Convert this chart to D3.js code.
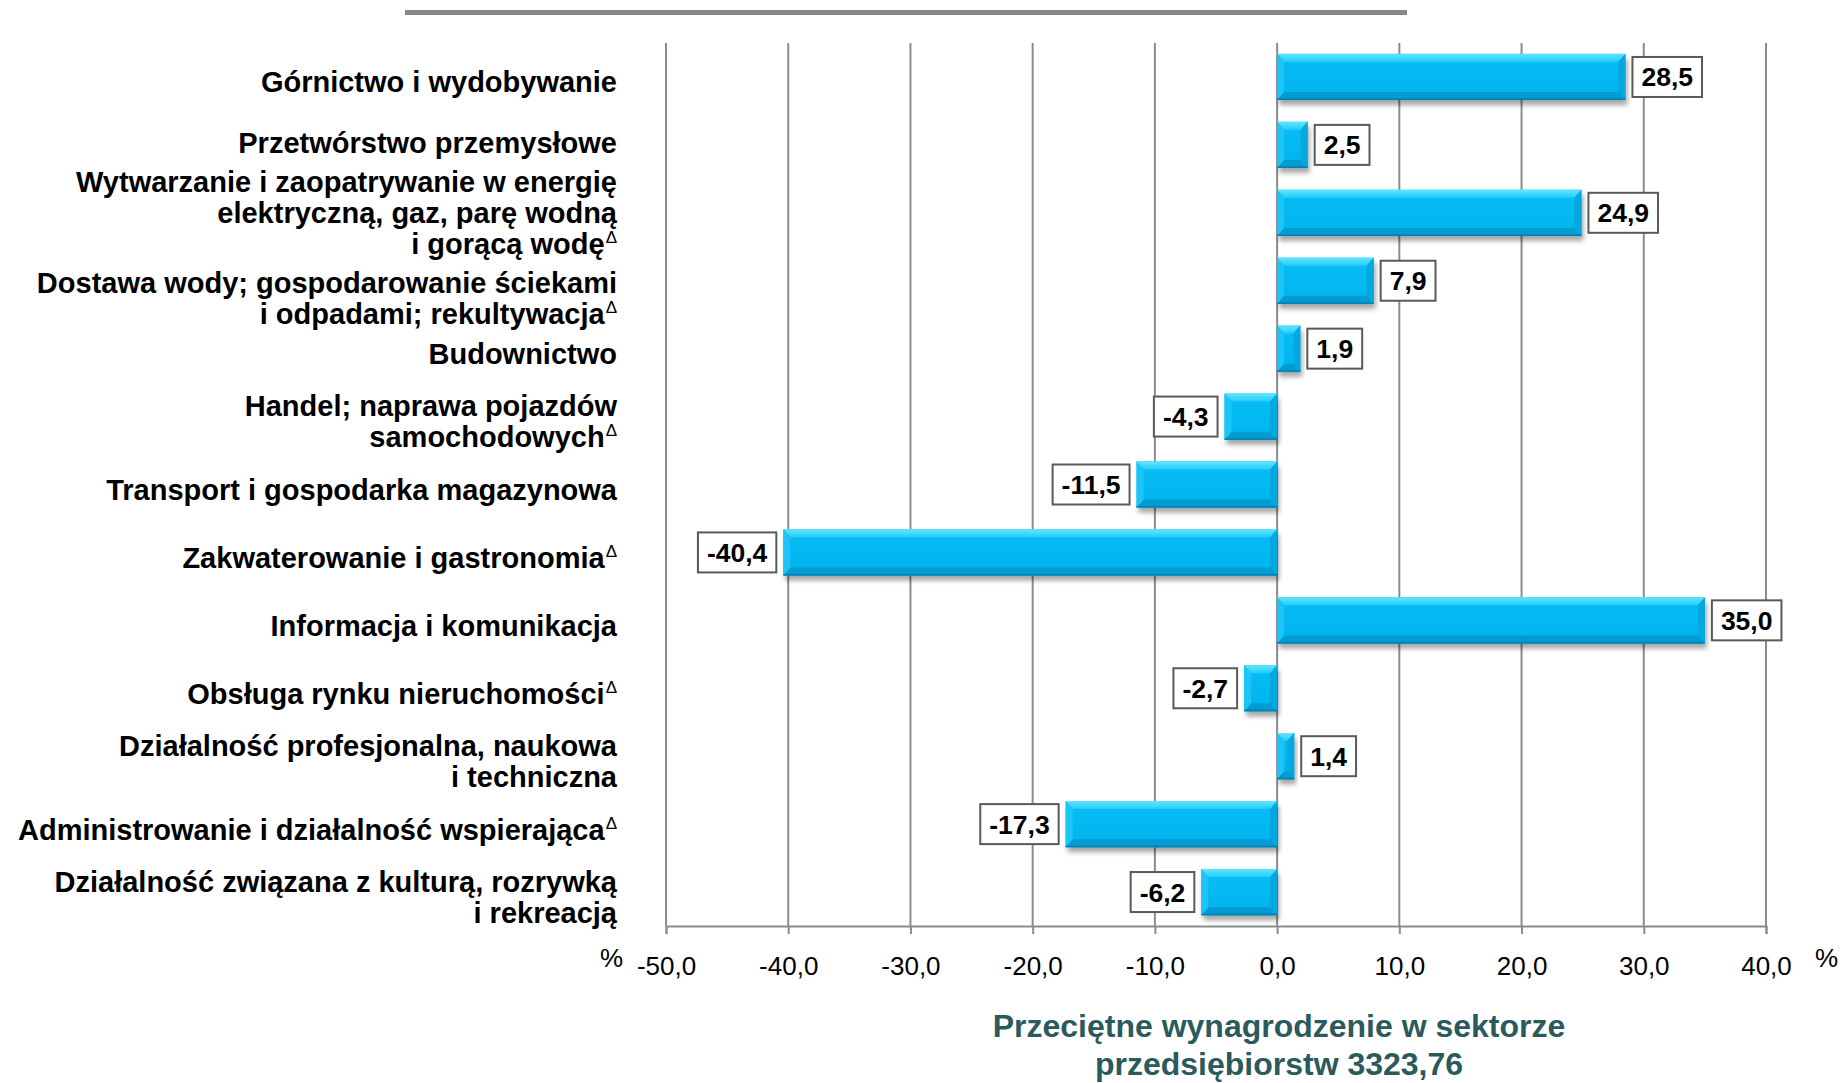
<!DOCTYPE html>
<html>
<head>
<meta charset="utf-8">
<script src="https://cdn.jsdelivr.net/npm/d3@7"></script>
<style>
    body { margin: 0; background: #fff; }
    svg { display: block; font-family: "Liberation Sans", Arial, sans-serif; }
</style>
</head>
<body>
<svg id="chart" width="1842" height="1083"></svg>
<script>
// data (Δ marks the superscript note)
var categories = [
    ["Górnictwo i wydobywanie"],
    ["Przetwórstwo przemysłowe"],
    ["Wytwarzanie i zaopatrywanie w energię", "elektryczną, gaz, parę wodną", "i gorącą wodęΔ"],
    ["Dostawa wody; gospodarowanie ściekami", "i odpadami; rekultywacjaΔ"],
    ["Budownictwo"],
    ["Handel; naprawa pojazdów", "samochodowychΔ"],
    ["Transport i gospodarka magazynowa"],
    ["Zakwaterowanie i gastronomiaΔ"],
    ["Informacja i komunikacja"],
    ["Obsługa rynku nieruchomościΔ"],
    ["Działalność profesjonalna, naukowa", "i techniczna"],
    ["Administrowanie i działalność wspierającaΔ"],
    ["Działalność związana z kulturą, rozrywką", "i rekreacją"]
]
var values = [28.5, 2.5, 24.9, 7.9, 1.9, -4.3, -11.5, -40.4, 35.0, -2.7, 1.4, -17.3, -6.2]
var tickValues = [-50, -40, -30, -20, -10, 0, 10, 20, 30, 40]
var axisTitle = ["Przeciętne wynagrodzenie w sektorze", "przedsiębiorstw 3323,76"]
var unitLabel = "%"

var svg = d3.select("#chart"),
    margin = { top: 43, left: 666, bottom: 157, right: 76 },
    width = +svg.attr("width"),
    height = +svg.attr("height");

var pl = d3.formatLocale({ decimal: ",", thousands: " ", grouping: [3], currency: ["", ""], minus: "-" })
var fmt = pl.format(".1f")

var x = d3.scaleLinear()
    .domain([-50, 40])
    .range([margin.left, width - margin.right])

var y = d3.scaleBand()
    .domain(d3.range(categories.length))
    .range([margin.top, height - margin.bottom])
    .paddingInner(0.32)
    .paddingOuter(0.16)

var defs = svg.append("defs")
defs.append("filter").attr("id", "blur")
    .attr("x", "-10%").attr("y", "-30%").attr("width", "120%").attr("height", "160%")
    .append("feGaussianBlur").attr("stdDeviation", 2.5)
var topGrad = defs.append("linearGradient").attr("id", "topFacet")
    .attr("x1", 0).attr("y1", 0).attr("x2", 0).attr("y2", 1)
topGrad.append("stop").attr("offset", "0%").attr("stop-color", "#5FE6FF")
topGrad.append("stop").attr("offset", "100%").attr("stop-color", "#26CBF9")
var faceGrad = defs.append("linearGradient").attr("id", "face")
    .attr("x1", 0).attr("y1", 0).attr("x2", 0).attr("y2", 1)
faceGrad.append("stop").attr("offset", "0%").attr("stop-color", "#08BDF4")
faceGrad.append("stop").attr("offset", "100%").attr("stop-color", "#00B3EE")

// grey rule above the chart
svg.append("line")
    .attr("x1", 405).attr("x2", 1407)
    .attr("y1", 12.5).attr("y2", 12.5)
    .attr("stroke", "#878787")
    .attr("stroke-width", 5)

// gridlines
svg.append("g").attr("class", "grid")
    .selectAll("line")
    .data(tickValues)
    .join("line")
    .attr("x1", d => x(d)).attr("x2", d => x(d))
    .attr("y1", margin.top).attr("y2", height - margin.bottom)
    .attr("stroke", "#8c8c8c")
    .attr("stroke-width", 2)

// x axis
var xAxis = svg.append("g")
    .attr("class", "x-axis")
    .attr("transform", `translate(0,${height - margin.bottom})`)
    .call(d3.axisBottom(x).tickValues(tickValues).tickFormat(fmt)
        .tickSizeInner(8).tickSizeOuter(8).tickPadding(23))
xAxis.select(".domain").attr("stroke", "#8c8c8c").attr("stroke-width", 2)
xAxis.selectAll(".tick line").attr("stroke", "#8c8c8c").attr("stroke-width", 2)
xAxis.selectAll(".tick text")
    .attr("fill", "#000")
    .style("font-size", "26px")
    .style("font-family", "'Liberation Sans', Arial, sans-serif")

svg.append("text")
    .attr("x", 623).attr("y", 967)
    .attr("text-anchor", "end")
    .style("font-size", "26px")
    .text(unitLabel)
svg.append("text")
    .attr("x", 1815).attr("y", 967)
    .attr("text-anchor", "start")
    .style("font-size", "26px")
    .text(unitLabel)

// bars with a bevel look
var bars = svg.append("g").attr("class", "bars")
    .selectAll("g")
    .data(values)
    .join("g")

bars.each(function (v, i) {
    var g = d3.select(this)
    var x0 = x(Math.min(0, v)), x1 = x(Math.max(0, v))
    var y0 = y(i), y1 = y(i) + y.bandwidth()
    var w = x1 - x0
    var bx = Math.min(7, w / 2), by = 8
    g.append("rect")
        .attr("x", x0 + 2).attr("y", y0 + 5)
        .attr("width", w).attr("height", y1 - y0)
        .attr("fill", "#000").attr("opacity", 0.35)
        .attr("filter", "url(#blur)")
    g.append("rect")
        .attr("x", x0).attr("y", y0)
        .attr("width", w).attr("height", y1 - y0)
        .attr("fill", "url(#face)")
    g.append("polygon")
        .attr("points", [[x0, y0], [x1, y0], [x1 - bx, y0 + by], [x0 + bx, y0 + by]].join(" "))
        .attr("fill", "url(#topFacet)")
    g.append("polygon")
        .attr("points", [[x0, y1], [x1, y1], [x1 - bx, y1 - by], [x0 + bx, y1 - by]].join(" "))
        .attr("fill", "#039BD1")
    g.append("polygon")
        .attr("points", [[x0, y0], [x0 + bx, y0 + by], [x0 + bx, y1 - by], [x0, y1]].join(" "))
        .attr("fill", "#1CC5F7")
    g.append("polygon")
        .attr("points", [[x1, y0], [x1 - bx, y0 + by], [x1 - bx, y1 - by], [x1, y1]].join(" "))
        .attr("fill", "#02A8E0")
    g.append("line")
        .attr("x1", x0).attr("x2", x1)
        .attr("y1", y1 - 0.75).attr("y2", y1 - 0.75)
        .attr("stroke", "#0080B2").attr("stroke-width", 1.5)
})

// value labels in boxes
var labels = svg.append("g").attr("class", "values")
    .selectAll("g")
    .data(values)
    .join("g")

labels.each(function (v, i) {
    var g = d3.select(this)
    var cy = y(i) + y.bandwidth() / 2
    var box = g.append("rect")
    var t = g.append("text")
        .attr("y", cy + 9.5)
        .attr("text-anchor", "middle")
        .style("font-size", "26.5px")
        .style("font-weight", "bold")
        .text(fmt(v))
    var bw = t.node().getComputedTextLength() + 18, bh = 40
    var bxl = v >= 0 ? x(v) + 7 : x(v) - 7 - bw
    box.attr("x", bxl).attr("y", cy - bh / 2)
        .attr("width", bw).attr("height", bh)
        .attr("fill", "#fff")
        .attr("stroke", "#595959")
        .attr("stroke-width", 2)
    t.attr("x", bxl + bw / 2)
})

// category labels: start at the band centre, then push apart blocks that collide
var lineH = 31, blockGap = 8
var blocks = categories.map((lines, i) => ({ c: y(i) + y.bandwidth() / 2 + 5, h: lines.length * lineH }))
for (var it = 0; it < 60; it++) {
    for (var i = 0; i < blocks.length - 1; i++) {
        var a = blocks[i], b = blocks[i + 1]
        var need = a.h / 2 + b.h / 2 + blockGap - (b.c - a.c)
        if (need > 0) { a.c -= need / 2; b.c += need / 2 }
    }
}

var cats = svg.append("g").attr("class", "categories")
    .selectAll("g")
    .data(categories)
    .join("g")

cats.each(function (lines, i) {
    var g = d3.select(this)
    var first = blocks[i].c - (lines.length - 1) * lineH / 2 + 10.4
    lines.forEach(function (line, k) {
        var delta = line.endsWith("Δ")
        var t = g.append("text")
            .attr("x", 617)
            .attr("y", first + k * lineH)
            .attr("text-anchor", "end")
            .style("font-size", "29px")
            .style("font-weight", "bold")
            .attr("fill", "#000")
        t.append("tspan").text(delta ? line.slice(0, -1) : line)
        if (delta) {
            t.append("tspan")
                .attr("dx", 1)
                .attr("dy", -11)
                .style("font-size", "17px")
                .style("font-weight", "normal")
                .text("Δ")
        }
    })
})

// axis title
svg.append("g").attr("class", "axis-title")
    .selectAll("text")
    .data(axisTitle)
    .join("text")
    .attr("x", 1279)
    .attr("y", (d, k) => 1037 + k * 38)
    .attr("text-anchor", "middle")
    .attr("fill", "#2B5A5E")
    .style("font-size", "32px")
    .style("font-weight", "bold")
    .text(d => d)
</script>
</body>
</html>
